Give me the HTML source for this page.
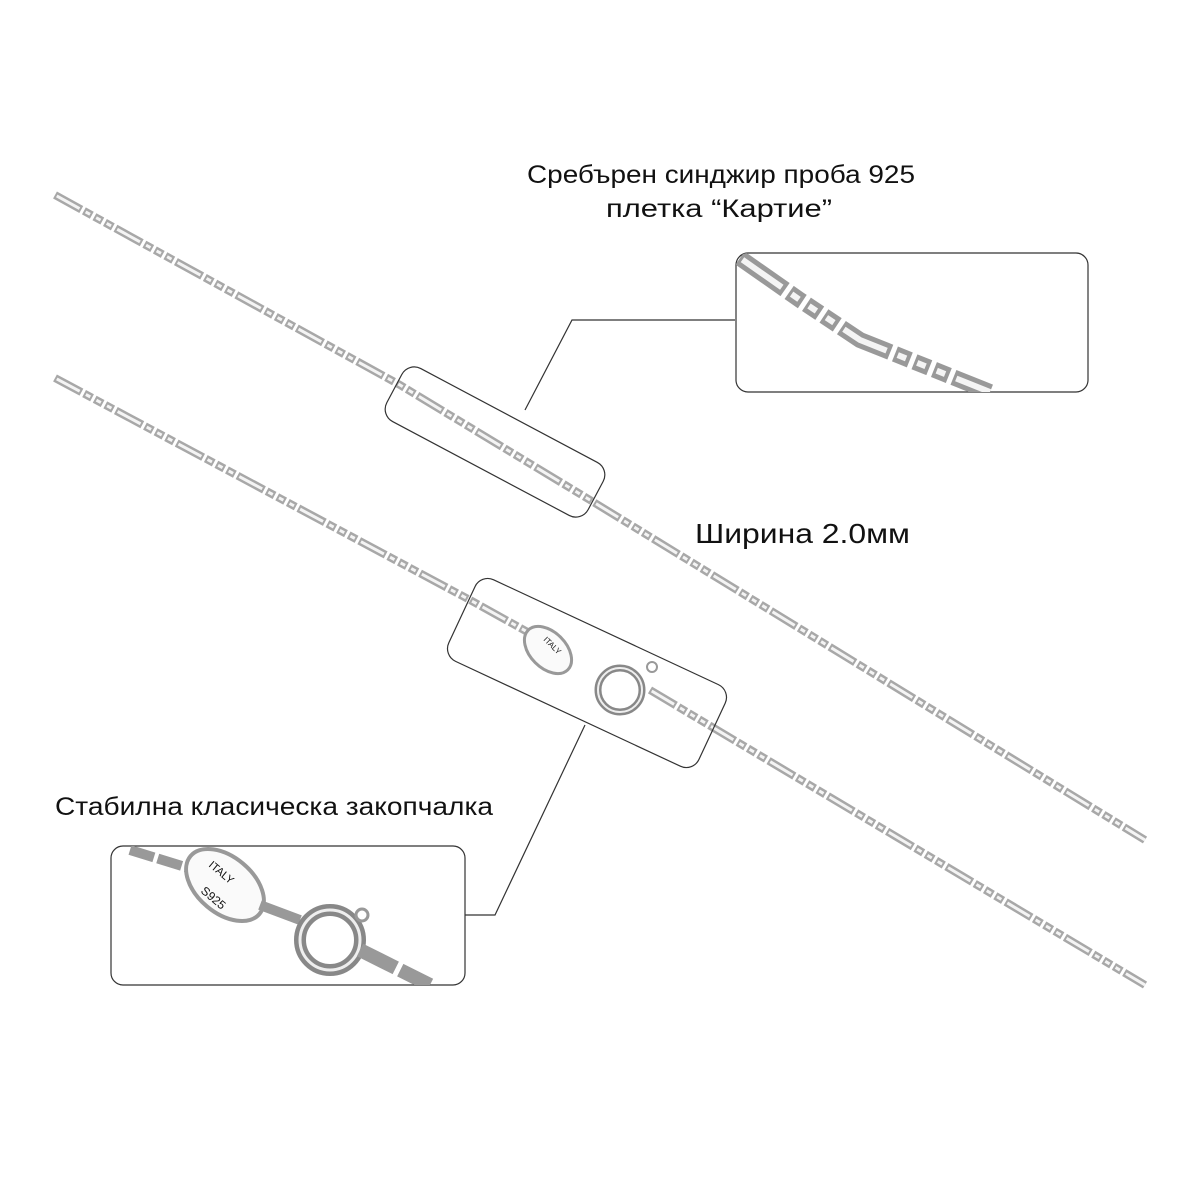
<!DOCTYPE html>
<html><head><meta charset="utf-8"><style>
html,body{margin:0;padding:0;background:#fff;}
svg{display:block}
text{font-family:"Liberation Sans",sans-serif;fill:#111}
</style></head><body>
<svg width="1200" height="1200" viewBox="0 0 1200 1200" xmlns="http://www.w3.org/2000/svg">
<defs>
<clipPath id="c1"><rect x="736" y="253" width="352" height="139" rx="12"/></clipPath>
<clipPath id="c2"><rect x="111" y="846" width="354" height="139" rx="12"/></clipPath>
</defs>
<rect width="1200" height="1200" fill="#fff"/>
<g fill="none">
<path d="M55,195 L400,385 L590,500 L1145,840" stroke="#a8a8a8" stroke-width="8" stroke-dasharray="30 3 9 3 9 3 9 3"/>
<path d="M55,195 L400,385 L590,500 L1145,840" stroke="#f4f4f4" stroke-width="3" stroke-dasharray="26 7 5 7 5 7 5 7" stroke-dashoffset="-2"/>
<path d="M55,378 L470,600 L560,650" stroke="#a8a8a8" stroke-width="8" stroke-dasharray="30 3 9 3 9 3 9 3"/>
<path d="M55,378 L470,600 L560,650" stroke="#f4f4f4" stroke-width="3" stroke-dasharray="26 7 5 7 5 7 5 7" stroke-dashoffset="-2"/>
<path d="M650,690 L1145,985" stroke="#a8a8a8" stroke-width="8" stroke-dasharray="30 3 9 3 9 3 9 3"/>
<path d="M650,690 L1145,985" stroke="#f4f4f4" stroke-width="3" stroke-dasharray="26 7 5 7 5 7 5 7" stroke-dashoffset="-2"/>
<ellipse cx="548" cy="650" rx="28" ry="18" transform="rotate(45 548 650)" stroke="#999" stroke-width="3" fill="#fafafa"/>
<circle cx="620" cy="690" r="22" stroke="#888" stroke-width="7"/>
<circle cx="620" cy="690" r="22" stroke="#eee" stroke-width="2"/>
<circle cx="652" cy="667" r="5" stroke="#999" stroke-width="2"/>
</g>
<text x="543" y="640" font-size="8" fill="#999" transform="rotate(45 543 640)">ITALY</text>
<g fill="none" stroke="#333" stroke-width="1.2">
<rect x="-114" y="-30" width="228" height="60" rx="14" transform="translate(495 442) rotate(28)"/>
<rect x="-138" y="-45" width="276" height="90" rx="14" transform="translate(587 673) rotate(25)"/>
<rect x="736" y="253" width="352" height="139" rx="12"/>
<rect x="111" y="846" width="354" height="139" rx="12"/>
<polyline points="525,410 572,320 735,320"/>
<polyline points="585,725 495,915 465,915"/>
</g>
<g clip-path="url(#c1)" fill="none">
<path d="M740,258 L800,300 L860,340 L990,392" stroke="#999" stroke-width="16" stroke-dasharray="55 5 16 5 16 5 16 5"/>
<path d="M740,258 L800,300 L860,340 L990,392" stroke="#f4f4f4" stroke-width="6" stroke-dasharray="48 12 9 12 9 12 9 12" stroke-dashoffset="-3"/>
</g>
<g clip-path="url(#c2)" fill="none">
<path d="M130,850 L195,870" stroke="#999" stroke-width="10" stroke-dasharray="25 4"/>
<ellipse cx="225" cy="885" rx="45" ry="28" transform="rotate(40 225 885)" stroke="#999" stroke-width="4" fill="#fafafa"/>
<path d="M260,905 L300,920" stroke="#999" stroke-width="10"/>
<circle cx="330" cy="940" r="30" stroke="#888" stroke-width="12"/>
<circle cx="330" cy="940" r="30" stroke="#eee" stroke-width="3"/>
<circle cx="362" cy="915" r="6" stroke="#999" stroke-width="3"/>
<path d="M360,950 L430,985" stroke="#999" stroke-width="14" stroke-dasharray="40 5"/>
</g>
<text x="208" y="866" font-size="11" fill="#999" transform="rotate(40 208 866)">ITALY</text>
<text x="200" y="892" font-size="12" fill="#999" transform="rotate(40 200 892)">S925</text>
<text x="527" y="183" font-size="25" textLength="388" lengthAdjust="spacingAndGlyphs">Сребърен синджир проба 925</text>
<text x="606" y="217" font-size="25" textLength="226" lengthAdjust="spacingAndGlyphs">плетка “Картие”</text>
<text x="695" y="543" font-size="28" textLength="215" lengthAdjust="spacingAndGlyphs">Ширина 2.0мм</text>
<text x="55" y="815" font-size="25" textLength="438" lengthAdjust="spacingAndGlyphs">Стабилна класическа закопчалка</text>
</svg>
</body></html>
